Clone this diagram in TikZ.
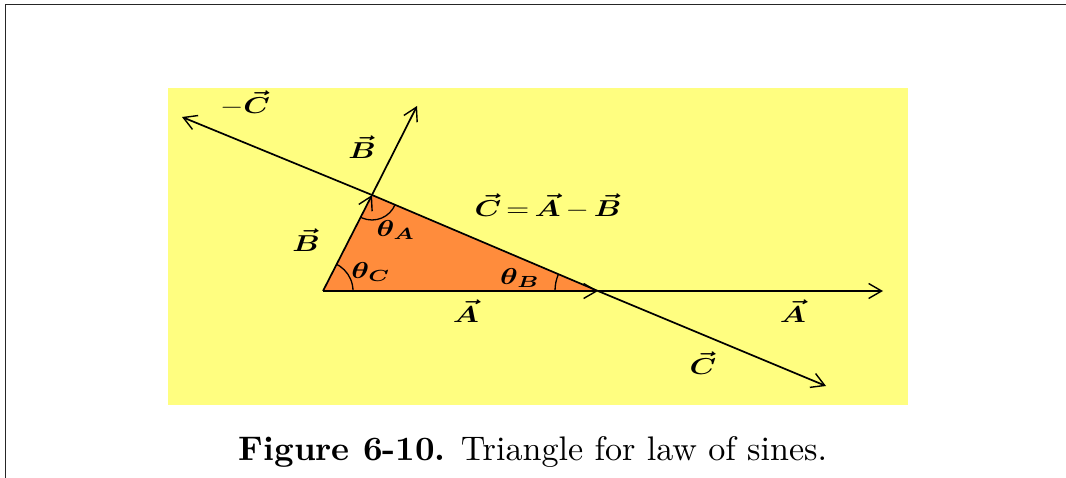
\documentclass[tikz,border=0pt]{standalone}
\usepackage{graphicx}
\usepackage{amsmath,bm}
\usetikzlibrary{arrows.meta}
\definecolor{bgyellow}{RGB}{255,254,128}
\definecolor{triorange}{RGB}{255,140,60}
\newcommand{\lblbox}[1]{\scalebox{3.0}[2.3]{#1}}
\begin{document}
\begin{tikzpicture}[x=1pt,y=-1pt,
  vec/.style={line width=1.7pt,-{Straight Barb[length=13pt,width=15pt,line width=1.4pt]}},
  seg/.style={line width=1.7pt},
  lbl/.style={inner sep=0pt},
  arcline/.style={line width=1.3pt}]
\useasboundingbox (0,0) rectangle (1066,478);
% frame
\draw[line width=1.5pt, black!85] (5.5,478) -- (5.5,4.5) -- (1066,4.5);
% background
\fill[bgyellow] (168,88) rectangle (908,405);
% points
\coordinate (O) at (323,291);
\coordinate (P) at (372,195);
\coordinate (Q) at (598,291);
\coordinate (Btip) at (417,106);
\coordinate (Atip) at (883,291);
\coordinate (Cm) at (182,117);
\coordinate (Ctip) at (826,386);
% triangle
\fill[triorange] (O) -- (P) -- (Q) -- cycle;
\begin{scope}
  \clip (O) -- (P) -- (Q) -- cycle;
  \draw[arcline] (O) circle (30pt);
  \draw[arcline] (P) circle (25pt);
  \draw[arcline] (Q) circle (43pt);
\end{scope}
% vectors
\draw[seg] (P) -- (Q);
\draw[vec] (P) -- (Cm);
\draw[vec] (Q) -- (Ctip);
\draw[vec] (O) -- (P);
\draw[vec] (P) -- (Btip);
\draw[vec] (O) -- (Q);
\draw[vec] (Q) -- (Atip);
% labels
\node[lbl] (lCm) at (245,103) {\lblbox{$-\bm{\vec{C}}$}};
\node[lbl] (lBu) at (362,147) {\lblbox{$\bm{\vec{B}}$}};
\node[lbl] (lEq) at (548,206) {\lblbox{$\bm{\vec{C}}\mkern-2mu=\mkern-2mu\bm{\vec{A}}\mkern-1mu-\mkern-1mu\bm{\vec{B}}$}};
\node[lbl] (lBl) at (306,240) {\lblbox{$\bm{\vec{B}}$}};
\node[lbl] (lthA) at (396,230) {\lblbox{$\bm{\theta_{A}}$}};
\node[lbl] (lthC) at (371,272) {\lblbox{$\bm{\theta_{C}}$}};
\node[lbl] (lthB) at (520,278) {\lblbox{$\bm{\theta_{B}}$}};
\node[lbl] (lAl) at (466,311) {\lblbox{$\bm{\vec{A}}$}};
\node[lbl] (lAr) at (793,311) {\lblbox{$\bm{\vec{A}}$}};
\node[lbl] (lC) at (703,363) {\lblbox{$\bm{\vec{C}}$}};
% caption
\node[inner sep=0pt] (cap) at (533,452) {\scalebox{3.41}{\textbf{Figure 6-10.} Triangle for law of sines.}};
\end{tikzpicture}
\end{document}
